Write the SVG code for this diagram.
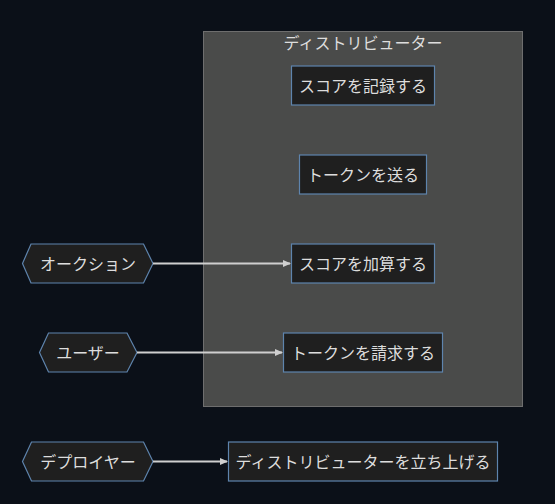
<svg xmlns="http://www.w3.org/2000/svg" width="555" height="504" viewBox="0 0 555 504">
<style>
text{font-family:"Noto Sans CJK JP","Noto Sans",sans-serif;font-size:16px;fill:#dddddd;text-anchor:middle;dominant-baseline:central}
.n{fill:#1f1f1f;stroke:#5e84ad;stroke-width:1.2}
.e{stroke:#cfcfcf;stroke-width:2;fill:none;marker-end:url(#ah)}
</style>
<defs>
<marker id="ah" markerWidth="8" markerHeight="8" refX="7" refY="4" orient="auto" markerUnits="userSpaceOnUse">
<path d="M0,0.5 L8,4 L0,7.5 z" fill="#cfcfcf"/>
</marker>
</defs>
<rect x="0" y="0" width="555" height="504" fill="#0b1018"/>
<g id="distributor">
<rect x="203.5" y="31.5" width="319" height="375" fill="#4a4b4a" stroke="#6e6e6e" stroke-width="1"/>
<text x="363" y="42">ディストリビューター</text>
</g>
<g id="record"><rect class="n" x="291.5" y="66" width="143" height="39"/><text x="363" y="84.5">スコアを記録する</text></g>
<g id="send"><rect class="n" x="299.5" y="155" width="127" height="39"/><text x="363" y="173.5">トークンを送る</text></g>
<g id="add"><rect class="n" x="291.5" y="244" width="143" height="39"/><text x="363" y="262.5">スコアを加算する</text></g>
<g id="claim"><rect class="n" x="283.5" y="333" width="159" height="39"/><text x="363" y="351.5">トークンを請求する</text></g>
<g id="launch"><rect class="n" x="228.5" y="442" width="269" height="39"/><text x="363" y="460.5">ディストリビューターを立ち上げる</text></g>
<g id="auction"><polygon class="n" points="22.5,263.5 31,244 143.5,244 153,263.5 143.5,283 31,283"/><text x="88" y="262.5">オークション</text></g>
<g id="user"><polygon class="n" points="39.5,352.5 48.5,333 127,333 137,352.5 127,372 48.5,372"/><text x="88" y="351.5">ユーザー</text></g>
<g id="deployer"><polygon class="n" points="22.5,461.5 31.5,442 143.5,442 153,461.5 143.5,481 31.5,481"/><text x="88" y="460.5">デプロイヤー</text></g>
<g id="edges">
<path class="e" d="M153,263.5 L290,263.5"/>
<path class="e" d="M137,352.5 L282,352.5"/>
<path class="e" d="M153,461.5 L227,461.5"/>
</g>
</svg>
